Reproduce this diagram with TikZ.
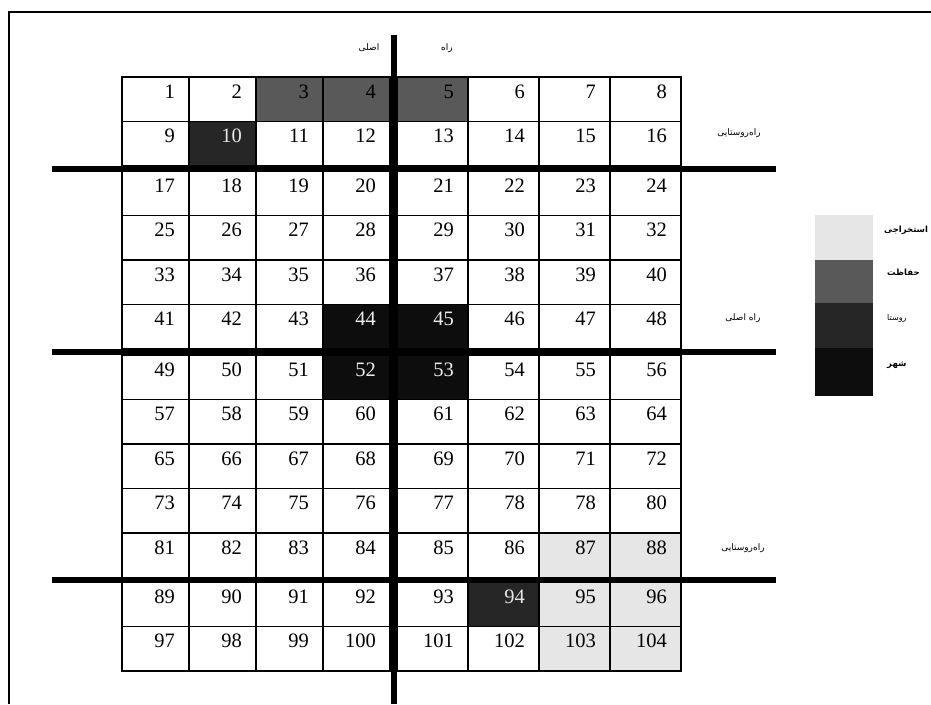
\documentclass[tikz,border=0pt]{standalone}
\usepackage{fontspec}
\setmainfont{Liberation Serif}
\newfontfamily\arabicfont[Script=Arabic]{DejaVu Sans}
\TeXXeTstate=1
\usetikzlibrary{positioning}
\definecolor{zoneshahr}{RGB}{13, 13, 13}
\definecolor{zonerusta}{RGB}{38, 38, 38}
\definecolor{zonehefazat}{RGB}{89, 89, 89}
\definecolor{zoneestekhraj}{RGB}{230, 230, 230}

\tikzset{
    hefazat/.style={fill=zonehefazat, text=black},
    rusta/.style={fill=zonerusta, text=zoneestekhraj},
    shahr/.style={fill=zoneshahr, text=white!92!black},
    estekhraj/.style={fill=zoneestekhraj},
    z3/.style=hefazat, z4/.style=hefazat, z5/.style=hefazat,
    z10/.style=rusta, z94/.style=rusta,
    z44/.style=shahr, z45/.style=shahr, z52/.style=shahr, z53/.style=shahr,
    z87/.style=estekhraj, z88/.style=estekhraj, z95/.style=estekhraj,
    z96/.style=estekhraj, z103/.style=estekhraj, z104/.style=estekhraj
}

\begin{document}
\begin{tikzpicture}[x=1pt, y=-1pt,
        cell/.style={draw=black, line width=1.4pt, fill=white,
                     inner sep=0pt, outer sep=0pt, anchor=north west,
                     minimum height=44.5pt},
        num/.style={font=\fontsize{20.5}{20}\selectfont,
                    anchor=base east, inner sep=0pt},
        road/.style={line width=6pt},
        lbl/.style={font=\arabicfont\fontsize{9}{10}\selectfont},
        keybox/.style={inner sep=0pt, anchor=north west,
                       minimum width=58pt},
        key/.style={font=\arabicfont\bfseries\fontsize{8.5}{9}\selectfont,
                    anchor=west, inner sep=0pt}
    ]
    \useasboundingbox (0,0) rectangle (931,704);

    % frame
    \draw[line width=2pt] (9,704) -- (9,12) -- (931,12);

    % parcels
    \foreach \r/\t in {0/77, 1/121.5, 2/171, 3/215.5, 4/260, 5/304.5,
                       6/355, 7/399.5, 8/444, 9/488.5, 10/533,
                       11/582, 12/626.5} {
        \foreach \c/\l/\w in {1/122/67, 2/189/67, 3/256/67, 4/323/67,
                              5/397/71, 6/468/71, 7/539/71, 8/610/71} {
            \pgfmathtruncatemacro{\n}{8*\r+\c}
            \node[cell, minimum width=\w pt, z\n/.try] (c\n) at (\l,\t) {};
            \node[num, z\n/.try, fill=none] (n\n) at ({\l+\w-14},{\t+21})
                {\ifnum\n=79 78\else\n\fi};
        }
    }

    % roads
    \draw[road] (394,35) -- (394,704);
    \draw[road] (52,168.5) -- (776,168.5);
    \draw[road] (52,352) -- (776,352);
    \draw[road] (52,579.5) -- (776,579.5);

    \node[lbl] (topleft) at (369,48) {\beginR اصلی\endR};
    \node[lbl] (topright) at (447,48) {\beginR راه\endR};
    \node[lbl] (rural1) at (739,133) {\beginR راه‌روستایی\endR};
    \node[lbl] (main1) at (743,318) {\beginR راه اصلی\endR};
    \node[lbl] (rural2) at (743,548) {\beginR راه‌روستایی\endR};

    % legend
    \node[keybox, estekhraj, minimum height=45pt] (k1) at (815,215) {};
    \node[keybox, hefazat, minimum height=43pt] (k2) at (815,260) {};
    \node[keybox, rusta, minimum height=45pt] (k3) at (815,303) {};
    \node[keybox, shahr, minimum height=48pt] (k4) at (815,348) {};

    \node[key] (t1) at (884,230) {\beginR استخراجی\endR};
    \node[key] (t2) at (887,272) {\beginR حفاظت\endR};
    \node[key, font=\arabicfont\fontsize{8}{9}\selectfont] (t3) at (887,318)
        {\beginR روستا\endR};
    \node[key] (t4) at (887,365) {\beginR شهر\endR};
\end{tikzpicture}
\end{document}
